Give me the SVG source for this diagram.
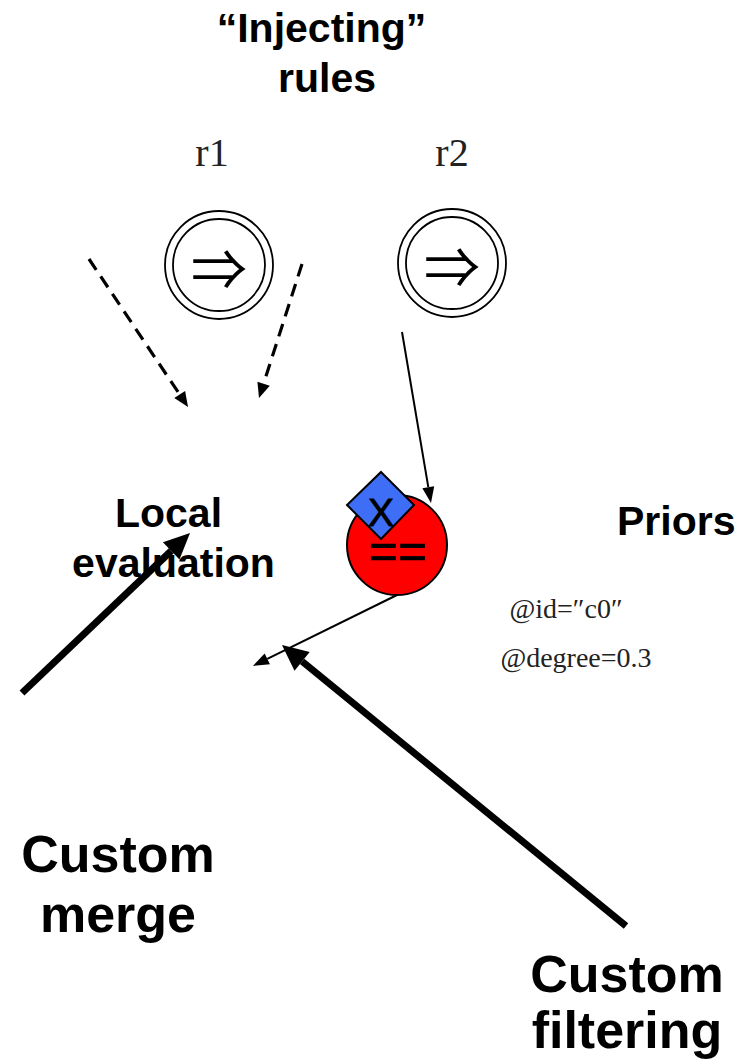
<svg xmlns="http://www.w3.org/2000/svg" width="752" height="1061" viewBox="0 0 752 1061">
  <style>
    .bold { font-family: "Liberation Sans", Arial, sans-serif; font-weight: bold; fill: #000; }
    .serif { font-family: "Liberation Serif", "Times New Roman", serif; fill: #222; }
    .ring { fill: none; stroke: #000; stroke-width: 1.8; }
    .sym { font-family: "Noto Sans CJK JP", "DejaVu Sans", sans-serif; fill: #000; text-anchor: middle; }
    .thin { stroke: #000; stroke-width: 2; fill: none; }
    .dash { stroke: #000; stroke-width: 3.2; stroke-dasharray: 13 8; fill: none; }
    .thick { stroke: #000; stroke-width: 7; fill: none; }
  </style>
  <defs>
    <marker id="headThin" markerUnits="userSpaceOnUse" markerWidth="16" markerHeight="12" refX="0" refY="6" orient="auto" overflow="visible">
      <path d="M0,0 L16,6 L0,12 z" fill="#000"/>
    </marker>
    <marker id="headDash" markerUnits="userSpaceOnUse" markerWidth="15" markerHeight="13" refX="0" refY="6.5" orient="auto" overflow="visible">
      <path d="M0,0 L15,6.5 L0,13 z" fill="#000"/>
    </marker>
    <marker id="headThick" markerUnits="userSpaceOnUse" markerWidth="26" markerHeight="24" refX="0" refY="12" orient="auto" overflow="visible">
      <path d="M0,0 L26,12 L0,24 z" fill="#000"/>
    </marker>
  </defs>

  <rect width="752" height="1061" fill="#fff"/>

  <!-- heading -->
  <g id="title">
    <text class="bold" x="321.5" y="42" font-size="41" text-anchor="middle">“Injecting”</text>
    <text class="bold" x="327" y="92" font-size="41" text-anchor="middle">rules</text>
  </g>

  <!-- rule r1 -->
  <g id="rule-r1">
    <text class="serif" x="212" y="166" font-size="40" text-anchor="middle">r1</text>
    <circle class="ring" cx="219" cy="265" r="54"/>
    <circle class="ring" cx="219" cy="265" r="46"/>
    <text class="sym" x="219" y="290" font-size="56">⇒</text>
  </g>

  <!-- rule r2 -->
  <g id="rule-r2">
    <text class="serif" x="452" y="166" font-size="40" text-anchor="middle">r2</text>
    <circle class="ring" cx="452" cy="263" r="54"/>
    <circle class="ring" cx="452" cy="263" r="46"/>
    <text class="sym" x="452" y="288" font-size="56">⇒</text>
  </g>

  <!-- local evaluation label -->
  <g id="local-evaluation">
    <text class="bold" x="168.5" y="527" font-size="41" text-anchor="middle">Local</text>
    <text class="bold" x="173.5" y="577" font-size="41" text-anchor="middle">evaluation</text>
  </g>

  <!-- equality node with marker diamond -->
  <g id="equality-node">
    <circle cx="397" cy="545" r="50" fill="#ff0000" stroke="#000" stroke-width="2"/>
    <text x="398" y="568" font-family="Liberation Sans, Arial, sans-serif" font-size="50" text-anchor="middle" fill="#000" stroke="#000" stroke-width="0.6">==</text>
    <polygon points="381,472 414,505 381,539 347,505" fill="#3d6ef5" stroke="#000" stroke-width="2"/>
    <text x="381" y="526" font-family="Liberation Sans, Arial, sans-serif" font-size="39" text-anchor="middle" fill="#000" stroke="#000" stroke-width="0.8">X</text>
  </g>

  <!-- priors -->
  <g id="priors">
    <text class="bold" x="617" y="535" font-size="41">Priors</text>
    <text class="serif" x="566" y="618" font-size="28" text-anchor="middle">@id=″c0″</text>
    <text class="serif" x="576" y="667" font-size="28" text-anchor="middle">@degree=0.3</text>
  </g>

  <!-- custom merge -->
  <g id="custom-merge">
    <text class="bold" x="118" y="872" font-size="52" text-anchor="middle">Custom</text>
    <text class="bold" x="118" y="932" font-size="52" text-anchor="middle">merge</text>
  </g>

  <!-- custom filtering -->
  <g id="custom-filtering">
    <text class="bold" x="627" y="992" font-size="52" text-anchor="middle">Custom</text>
    <text class="bold" x="627" y="1048" font-size="52" text-anchor="middle">filtering</text>
  </g>

  <!-- connectors -->
  <g id="connectors">
    <path class="dash" d="M89,259 L179.7,394.5" marker-end="url(#headDash)"/>
    <path class="dash" d="M302,264 L263.6,383.7" marker-end="url(#headDash)"/>
    <path class="thin" d="M402,332 L428.3,487.2" marker-end="url(#headThin)"/>
    <path class="thin" d="M397,595 L267.3,658.9" marker-end="url(#headThin)"/>
    <path class="thick" d="M22,693 L171.2,550.9" marker-end="url(#headThick)"/>
    <path class="thick" d="M626,926 L302.1,661.4" marker-end="url(#headThick)"/>
  </g>
</svg>
